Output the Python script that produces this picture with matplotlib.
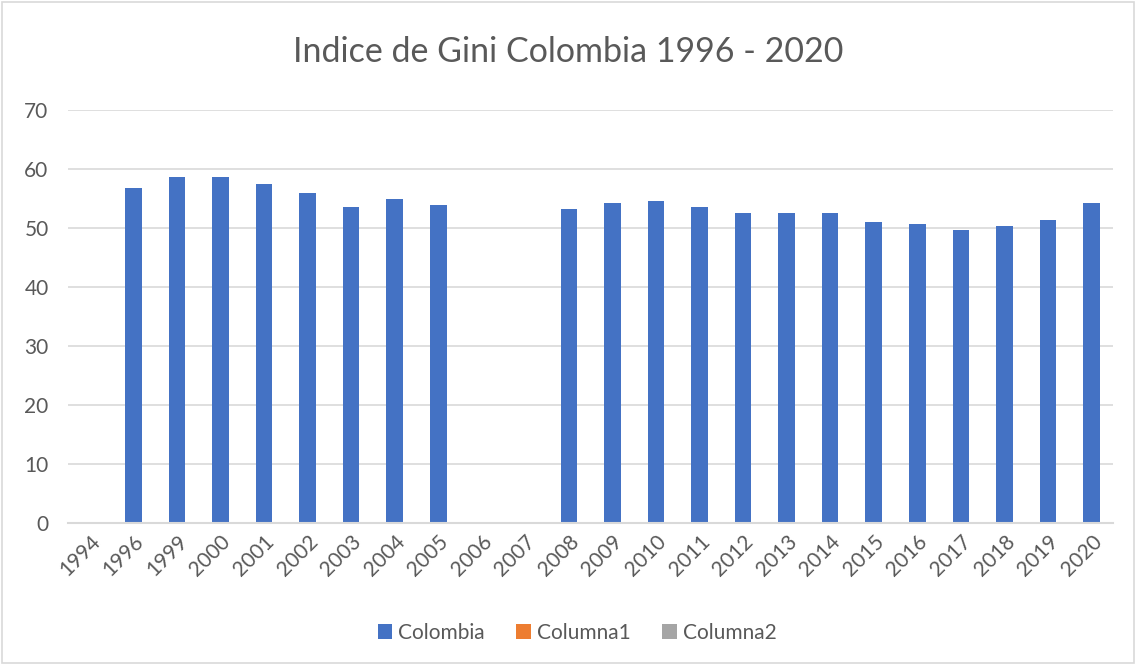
import matplotlib
matplotlib.use("Agg")
import matplotlib.pyplot as plt
from matplotlib.patches import Patch, Rectangle
import numpy as np

years = ["1994", "1996", "1999", "2000", "2001", "2002", "2003", "2004", "2005",
         "2006", "2007", "2008", "2009", "2010", "2011", "2012", "2013", "2014",
         "2015", "2016", "2017", "2018", "2019", "2020"]
colombia = [np.nan, 56.8, 58.7, 58.7, 57.4, 56.0, 53.5, 54.9, 53.9,
            np.nan, np.nan, 53.3, 54.3, 54.6, 53.5, 52.6, 52.6, 52.6,
            51.0, 50.6, 49.6, 50.4, 51.3, 54.2]
series_names = ["Colombia", "Columna1", "Columna2"]
series_colors = ["#4472C4", "#ED7D31", "#A5A5A5"]
yticks = [0, 10, 20, 30, 40, 50, 60, 70]
title = "Indice de Gini Colombia 1996 - 2020"

plt.rcParams['font.family'] = ['Lato', 'DejaVu Sans']

fig = plt.figure(figsize=(11.36, 6.64), dpi=100)
fig.patches.append(Rectangle((0.0015, 0.002), 0.997, 0.995, transform=fig.transFigure,
                             fill=False, edgecolor="#D9D9D9", linewidth=1.2))

ax = fig.add_axes([0.0599, 0.2123, 0.9201, 0.622])
x = np.arange(len(years))
ax.bar(x, colombia, width=0.38, color=series_colors[0], zorder=3)

ax.set_xlim(-0.5, len(years) - 0.5)
ax.set_ylim(0, 70)
ax.set_yticks(yticks)
ax.set_yticklabels([str(t) for t in yticks], fontsize=15, color="#595959")
ax.set_xticks(x)
ax.set_xticklabels(years, rotation=45, ha="right", va="top", rotation_mode="anchor",
                   fontsize=15, color="#595959")
ax.tick_params(axis="both", length=0)
ax.tick_params(axis="y", pad=14)
ax.tick_params(axis="x", pad=6)
ax.grid(axis="y", color="#D9D9D9", linewidth=1.2, zorder=0)
for s in ["top", "right", "left"]:
    ax.spines[s].set_visible(False)
ax.spines["bottom"].set_color("#D9D9D9")
ax.spines["bottom"].set_linewidth(1.5)
ax.spines["bottom"].set_zorder(4)

fig.text(0.5, 0.921, title, ha="center", va="center", fontsize=24.5, color="#595959")

handles = [Patch(facecolor=c, edgecolor="none") for c in series_colors]
fig.legend(handles, series_names, loc="center", bbox_to_anchor=(0.508, 0.047), ncol=3,
           frameon=False, fontsize=15, labelcolor="#595959", handlelength=0.7,
           handleheight=0.7, handletextpad=0.3, columnspacing=1.5)

fig.savefig("out.png", dpi=100)
